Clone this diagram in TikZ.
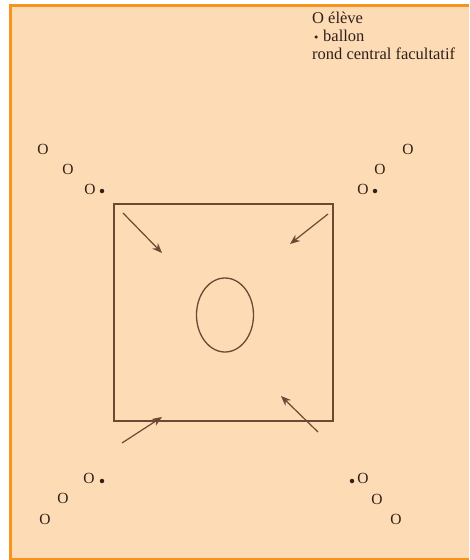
\documentclass[tikz,border=0pt]{standalone}
\usepackage{fontspec}
\setmainfont{Liberation Serif}
\usetikzlibrary{arrows.meta,shapes.geometric}
\definecolor{peach}{HTML}{FDDBB4}
\definecolor{frameorange}{HTML}{F7941D}
\definecolor{ink}{HTML}{6B4A35}
\definecolor{txt}{HTML}{2E211A}
\tikzset{
  pupil/.style={inner sep=0pt, text=txt, font=\fontsize{15.5}{15.5}\selectfont},
  ball/.style={circle, fill=txt, inner sep=0pt, minimum size=4.5pt},
  legend/.style={inner sep=0pt, anchor=base west, text=txt, font=\fontsize{16.5}{18}\selectfont},
  move/.style={draw=ink, line width=1.2pt, -{Stealth[length=10pt,width=8pt]}},
}
\begin{document}
\begin{tikzpicture}[x=1pt,y=-1pt]
\useasboundingbox (0,0) rectangle (469,560);
\fill[white] (0,0) rectangle (469,560);
\fill[peach] (10.5,5) rectangle (469,559);
\draw[frameorange, line width=3pt, line cap=butt] (469,5) -- (10.5,5) -- (10.5,559) -- (469,559);
% field
\node[draw=ink, line width=1.4pt, minimum width=219pt, minimum height=217pt, inner sep=0pt] (field) at (223.5,312.5) {};
\node[draw=ink, line width=1.3pt, ellipse, minimum width=57pt, minimum height=74pt, inner sep=0pt] (rond) at (225,315) {};
% arrows
\coordinate (a1s) at (123,213); \coordinate (a1e) at (162,253);
\coordinate (a2s) at (328,214); \coordinate (a2e) at (290,244);
\coordinate (a3s) at (318,432); \coordinate (a3e) at (281,396);
\coordinate (a4s) at (122,443); \coordinate (a4e) at (162,417);
\draw[move] (a1s) -- (a1e);
\draw[move] (a2s) -- (a2e);
\draw[move] (a3s) -- (a3e);
\draw[move] (a4s) -- (a4e);
% top-left group
\node[pupil] (tl1) at (43,149) {O};
\node[pupil] (tl2) at (68,169) {O};
\node[pupil] (tl3) at (90,189) {O};
\node[ball] (tlb) at (102,191) {};
% top-right group
\node[pupil] (tr1) at (408,149) {O};
\node[pupil] (tr2) at (380,169) {O};
\node[pupil] (tr3) at (363,189) {O};
\node[ball] (trb) at (375,191) {};
% bottom-left group
\node[pupil] (bl1) at (89,478) {O};
\node[ball] (blb) at (102,481) {};
\node[pupil] (bl2) at (63,498) {O};
\node[pupil] (bl3) at (45,519) {O};
% bottom-right group
\node[ball] (brb) at (352,481) {};
\node[pupil] (br1) at (363,478) {O};
\node[pupil] (br2) at (377,499) {O};
\node[pupil] (br3) at (396,519) {O};
% legend
\node[legend] (lg1) at (312,23) {O élève};
\node[ball, minimum size=3.5pt] (lgb) at (316,37) {};
\node[legend] (lg2) at (323,41) {ballon};
\node[legend] (lg3) at (312,59) {rond central facultatif};
\end{tikzpicture}
\end{document}
